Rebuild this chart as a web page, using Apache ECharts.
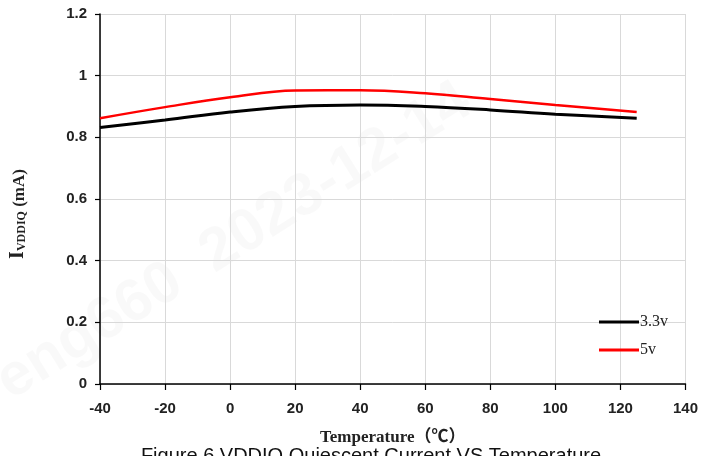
<!DOCTYPE html>
<html>
<head>
<meta charset="utf-8">
<script src="https://cdn.jsdelivr.net/npm/echarts@6/dist/echarts.min.js"></script>
<style>html,body{margin:0;padding:0;background:#fff;}#c{width:701px;height:456px;}</style>
</head>
<body>
<div id="c"></div>
<script>
const temps = [-40, -20, 0, 20, 40, 60, 80, 100, 125];
const v33 = [0.832, 0.856, 0.882, 0.900, 0.905, 0.900, 0.889, 0.875, 0.862];
const v5 = [0.862, 0.898, 0.930, 0.952, 0.953, 0.943, 0.924, 0.905, 0.882];
const seriesNames = ['3.3v', '5v'];
const caption = 'Figure 6 VDDIQ Quiescent Current VS Temperature';
const watermark = 'eng660  2023-12-14';

const chart = echarts.init(document.getElementById('c'), null, {renderer: 'canvas'});
const tickFont = {fontFamily: 'Liberation Sans, Arial, sans-serif', fontWeight: 'bold', fontSize: 15, color: '#222'};
chart.setOption({
  animation: false,
  backgroundColor: '#fff',
  grid: {left: 96, right: 15, top: 14, bottom: 72},
  graphic: [
    {type: 'text', z: -10, x: 18, y: 412, rotation: 32 * Math.PI / 180,
     style: {text: watermark, fontSize: 60, fontWeight: 'bold', fontFamily: 'Liberation Sans, sans-serif',
             fill: 'rgba(0,0,0,0.025)', textVerticalAlign: 'bottom', verticalAlign: 'bottom'}},
    {type: 'text', z: 10, x: 371, y: 446,
     style: {text: caption, fontSize: 20, fontFamily: 'Liberation Sans, Arial, sans-serif', fill: '#111',
             textAlign: 'center', align: 'center'}}
  ],
  legend: {
    orient: 'vertical', left: 594, top: 309, itemWidth: 40, itemHeight: 3, itemGap: 12,
    icon: 'rect',
    data: seriesNames,
    textStyle: {fontFamily: 'Liberation Serif, Times New Roman, serif', fontSize: 16, color: '#222', padding: [0, 0, 0, -4]}
  },
  xAxis: {
    type: 'value', min: -40, max: 140, interval: 20,
    name: 'Temperature（℃）', nameLocation: 'middle', nameGap: 45,
    nameTextStyle: {fontFamily: 'Liberation Serif, Noto Sans CJK SC, serif', fontWeight: 'bold', fontSize: 17, color: '#222'},
    axisLine: {onZero: false, lineStyle: {color: '#000', width: 1.5}},
    axisTick: {show: true, inside: false, length: 6, lineStyle: {color: '#000', width: 1.2}},
    axisLabel: Object.assign({margin: 17}, tickFont),
    splitLine: {show: true, lineStyle: {color: '#d9d9d9', width: 1}}
  },
  yAxis: {
    type: 'value', min: 0, max: 1.2, interval: 0.2,
    name: '{i|I}{s|VDDIQ}{m| (mA)}', nameLocation: 'middle', nameGap: 72, nameRotate: 90,
    nameTextStyle: {
      padding: [0, 30, 0, 0],
      rich: {
        i: {fontFamily: 'Liberation Serif, serif', fontWeight: 'bold', fontSize: 20, color: '#222', verticalAlign: 'bottom'},
        s: {fontFamily: 'Liberation Serif, serif', fontWeight: 'bold', fontSize: 12, color: '#222', verticalAlign: 'bottom'},
        m: {fontFamily: 'Liberation Serif, serif', fontWeight: 'bold', fontSize: 17, color: '#222', verticalAlign: 'bottom'}
      }
    },
    axisLine: {show: true, onZero: false, lineStyle: {color: '#000', width: 1.5}},
    axisTick: {show: true, inside: false, length: 5, lineStyle: {color: '#000', width: 1.2}},
    axisLabel: Object.assign({margin: 13, formatter: v => String(+v.toFixed(1))}, tickFont),
    splitLine: {show: true, lineStyle: {color: '#d9d9d9', width: 1}}
  },
  series: [
    {name: seriesNames[0], type: 'line', smooth: 0.4, showSymbol: false, symbol: 'none',
     data: temps.map((t, i) => [t, v33[i]]), lineStyle: {color: '#000', width: 3}, itemStyle: {color: '#000'}},
    {name: seriesNames[1], type: 'line', smooth: 0.4, showSymbol: false, symbol: 'none',
     data: temps.map((t, i) => [t, v5[i]]), lineStyle: {color: '#f00', width: 2.5}, itemStyle: {color: '#f00'}}
  ]
});
</script>
</body>
</html>
